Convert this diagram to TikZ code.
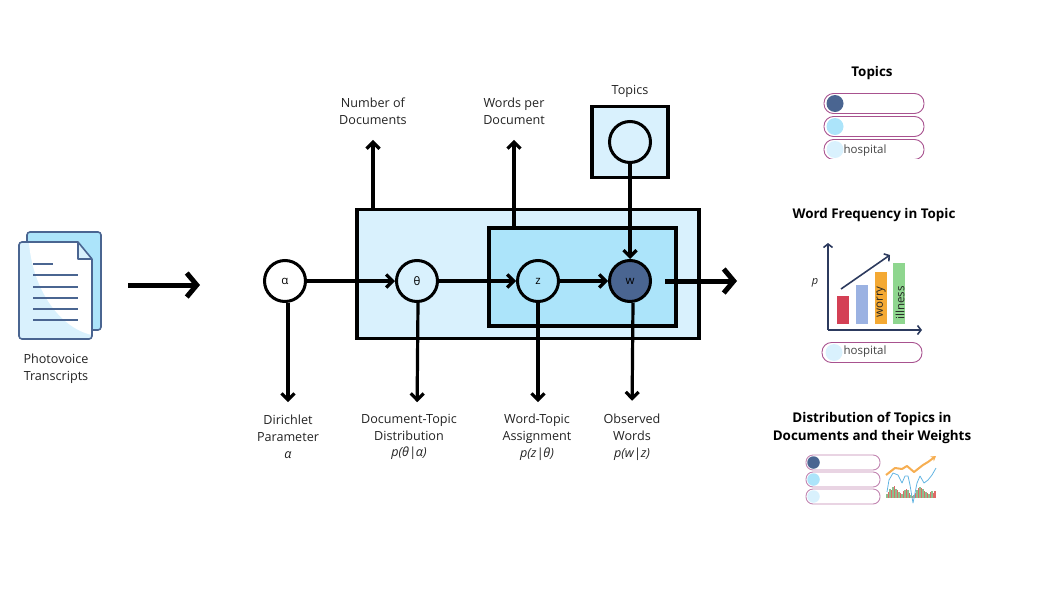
\documentclass[tikz,border=0pt]{standalone}
\usepackage{fontspec}
\setmainfont{Open Sans}
\usetikzlibrary{arrows.meta,positioning}
\definecolor{palesky}{HTML}{D9F1FD}
\definecolor{midsky}{HTML}{ACE4FA}
\definecolor{slateblue}{HTML}{4A6591}
\definecolor{pillrim}{HTML}{A8528F}
\definecolor{axisnavy}{HTML}{2C3A5E}
\definecolor{inktext}{HTML}{222222}
\definecolor{barred}{HTML}{D44055}
\definecolor{barblue}{HTML}{9BB2E2}
\definecolor{barorange}{HTML}{F4A933}
\definecolor{bargreen}{HTML}{8FD68F}
\definecolor{stockred}{HTML}{DE6A66}
\definecolor{stockgreen}{HTML}{8CBF8E}
\definecolor{stockblue}{HTML}{62B4E2}
\definecolor{stockorange}{HTML}{F6AE52}
\tikzstyle{var}=[draw,circle,line width=3pt,inner sep=0pt,minimum size=41pt,font=\fontsize{11.5}{13}\selectfont]
\tikzstyle{plate}=[draw,rectangle,line width=3.2pt,inner sep=0pt]
\tikzstyle{txt}=[align=center,text=inktext,inner sep=0pt,font=\fontsize{12.6}{16.8}\selectfont]
\tikzstyle{headline}=[align=center,text=black,inner sep=0pt,font=\fontsize{13.4}{18.5}\selectfont\bfseries]
\tikzstyle{pill}=[draw=pillrim,rectangle,rounded corners=9.5pt,line width=.9pt,inner sep=0pt,minimum width=100pt,minimum height=20pt]
\tikzstyle{dot}=[circle,inner sep=0pt,minimum size=17pt]
\tikzstyle{arr}=[line width=3.2pt,-{Straight Barb[length=6.5pt,width=13pt,line width=3.2pt]}]
\tikzstyle{bigarr}=[line width=5pt,-{Straight Barb[length=10pt,width=24pt,line width=5pt]}]
\tikzstyle{docline}=[draw=slateblue,line width=1.4pt]
\tikzstyle{axis}=[draw=axisnavy,line width=1.6pt,-{Straight Barb[length=3.5pt,width=9pt,line width=1.6pt]}]

\begin{document}
\begin{tikzpicture}[x=1pt,y=-1pt,on grid]
  \useasboundingbox (0,0) rectangle (1050,600);

  % transcripts
  \draw[docline,line width=1.6pt,fill=midsky,rounded corners=3pt] (27,232) rectangle (101,330);
  \draw[fill=palesky,draw=none,rounded corners=3pt] (19,242) -- (78,242) -- (92,259) -- (92,339) -- (19,339) -- cycle;
  \fill[white] (29,243) .. controls (33,290) and (60,328) .. (92,335) -- (92,259) -- (78,243) -- cycle;
  \draw[docline,line width=1.6pt,rounded corners=3pt] (78,242) -- (19,242) -- (19,339) -- (92,339) -- (92,259);
  \draw[docline,line width=1.6pt,fill=palesky,line join=round] (78,242) -- (92,259) -- (78,259) -- cycle;
  \draw[docline] (33,264) -- (53,264);
  \foreach \y in {275,287,298,309,320}
    \draw[docline] (33,\y) -- (78,\y);
  \node[txt] (src) at (56,368.5) {Photovoice\\Transcripts};
  \coordinate (in1) at (128,285);
  \coordinate (in2) at (200,285);
  \draw[bigarr] (in1) -- (in2);

  % plates
  \node[plate,fill=palesky,minimum width=342pt,minimum height=129pt] (docs) at (528,274) {};
  \node[plate,fill=midsky,minimum width=187pt,minimum height=98pt] (words) at (582.5,277) {};
  \node[plate,fill=palesky,minimum width=76pt,minimum height=71pt] (tbox) at (630,142) {};

  % variables
  \node[var,fill=white] (a) at (285,281) {α};
  \node[var,fill=palesky,right=132pt of a] (t) {θ};
  \node[var,fill=midsky,right=121pt of t] (z) {z};
  \node[var,fill=slateblue,right=92pt of z] (w) {w};
  \node[var,fill=palesky,above=139pt of w] (c) {};

  % labels
  \node[txt,below=156pt of a,xshift=3pt] (la) {Dirichlet\\Parameter\\\textit{α}};
  \node[txt,below=156pt of t,xshift=-8pt] (lt) {Document-Topic\\Distribution\\\textit{p(θ|α)}};
  \node[txt,below=156pt of z,xshift=-1pt] (lz) {Word-Topic\\Assignment\\\textit{p(z|θ)}};
  \node[txt,below=156pt of w,xshift=2pt] (lw) {Observed\\Words\\\textit{p(w|z)}};
  \node[txt] (ln) at (373,111.5) {Number of\\Documents};
  \node[txt] (lp) at (514,111.5) {Words per\\Document};
  \node[txt,above=51pt of c] (lc) {Topics};

  % arrows
  \draw[arr] (a) -- (t);
  \draw[arr] (t) -- (z);
  \draw[arr] (z) -- (w);
  \draw[arr] (c) -- (w);
  \draw[arr,shorten >=13pt] ([xshift=3pt]a.south) -- (la.north);
  \draw[arr,shorten >=13pt] ([xshift=1pt]t.south) -- (t.south |- la.north);
  \draw[arr,shorten >=13pt] (z.south) -- (z.south |- la.north);
  \draw[arr,shorten >=13pt] ([xshift=3pt]w.south) -- (lw.north);
  \draw[arr,shorten >=15pt] (docs.north -| ln) -- (ln.south);
  \draw[arr,shorten >=15pt] (words.north -| lp) -- (lp.south);
  \coordinate (out1) at (665,281);
  \coordinate (out2) at (737,281);
  \draw[bigarr] (out1) -- (out2);

  % topics panel
  \node[headline] (h1) at (872,73) {Topics};
  \node[pill] (p1) at (874,103.5) {};
  \node[pill,below=23pt of p1] (p2) {};
  \node[dot,fill=slateblue] (d1) at (835,103.5) {};
  \node[dot,fill=midsky,below=23pt of d1] (d2) {};
  \begin{scope}
    \clip (815,137) rectangle (935,158.5);
    \node[pill,below=23pt of p2] (p3) {};
  \end{scope}
  \node[dot,fill=palesky,below=23pt of d2] (d3) {};
  \node[txt,text=inktext!85,font=\fontsize{11.5}{13}\selectfont] (w1) at (865,151) {hospital};

  % frequency panel
  \node[headline] (h2) at (874,215) {Word Frequency in Topic};
  \fill[barred] (837,296) rectangle (849,324);
  \fill[barblue] (856,285) rectangle (868,324);
  \fill[barorange] (875,272) rectangle (887,324);
  \fill[bargreen] (893,263) rectangle (905,324);
  \coordinate (org) at (828,330);
  \coordinate (yend) at (828,243);
  \coordinate (xend) at (922,330);
  \coordinate (tr1) at (841,289);
  \coordinate (tr2) at (890,255);
  \draw[axis] (org) -- (yend);
  \draw[axis] (org) -- (xend);
  \draw[axis] (tr1) -- (tr2);
  \node[txt,font=\fontsize{11}{12}\selectfont\itshape] (py) at (815,283) {p};
  \node[txt,rotate=90,font=\fontsize{11.5}{13}\selectfont] (bw) at (881,302) {worry};
  \node[txt,rotate=90,font=\fontsize{11.5}{13}\selectfont] (bi) at (900,303) {illness};
  \node[pill] (p4) at (872,352.5) {};
  \node[dot,fill=palesky] (d4) at (834,352.5) {};
  \node[txt,text=inktext!85,font=\fontsize{11.5}{13}\selectfont] (w2) at (865,352) {hospital};

  % distribution panel
  \node[headline] (h3) at (872,428) {Distribution of Topics in\\Documents and their Weights};
  \foreach \n/\y/\col in {5/462.5/slateblue,6/479.5/midsky,7/496.5/palesky} {
    \node[pill,draw=pillrim!70,rounded corners=7pt,minimum width=74pt,minimum height=15pt] (p\n) at (843,\y) {};
    \node[dot,fill=\col,minimum size=12.5pt] (d\n) at (813.5,\y) {};
  }
  \foreach \x/\h/\col in {886/4/stockgreen,887.5/6/stockred,889/9/stockgreen,890.5/8/stockred,892/11/stockgreen,893.5/12/stockred,895/9/stockgreen,896.5/8/stockred,898/6/stockgreen,899.5/5/stockred,901/4/stockgreen,902.5/7/stockred,904/8/stockgreen,905.5/9/stockred,907/8/stockgreen,908.5/5/stockred,910/3/stockgreen,911.5/2/stockred,913/3/stockgreen,914.5/5/stockred,916/8/stockgreen,917.5/10/stockred,919/11/stockgreen,920.5/10/stockred,922/9/stockgreen,923.5/7/stockred,925/6/stockgreen,926.5/5/stockred,928/4/stockgreen,929.5/6/stockred,931/7/stockgreen,932.5/5/stockred,934/7/stockred}
    \fill[\col] (\x,498) rectangle ++(1.6,-\h);
  \draw[stockblue,line width=.8pt,line join=round] (887,492) -- (889,480) -- (893,473) -- (898,475) -- (902,483) -- (905,476) -- (908,476) -- (910,485) -- (913,503) -- (917,483) -- (920,476) -- (924,483) -- (928,480) -- (932,475) -- (936,468);
  \draw[stockorange,line width=2pt,line join=round,-{Stealth[length=5pt,width=6pt]}] (886,475) -- (895,468) -- (902,469) -- (907,466) -- (914,472) -- (923,465) -- (928,462) -- (936,456);
\end{tikzpicture}
\end{document}
